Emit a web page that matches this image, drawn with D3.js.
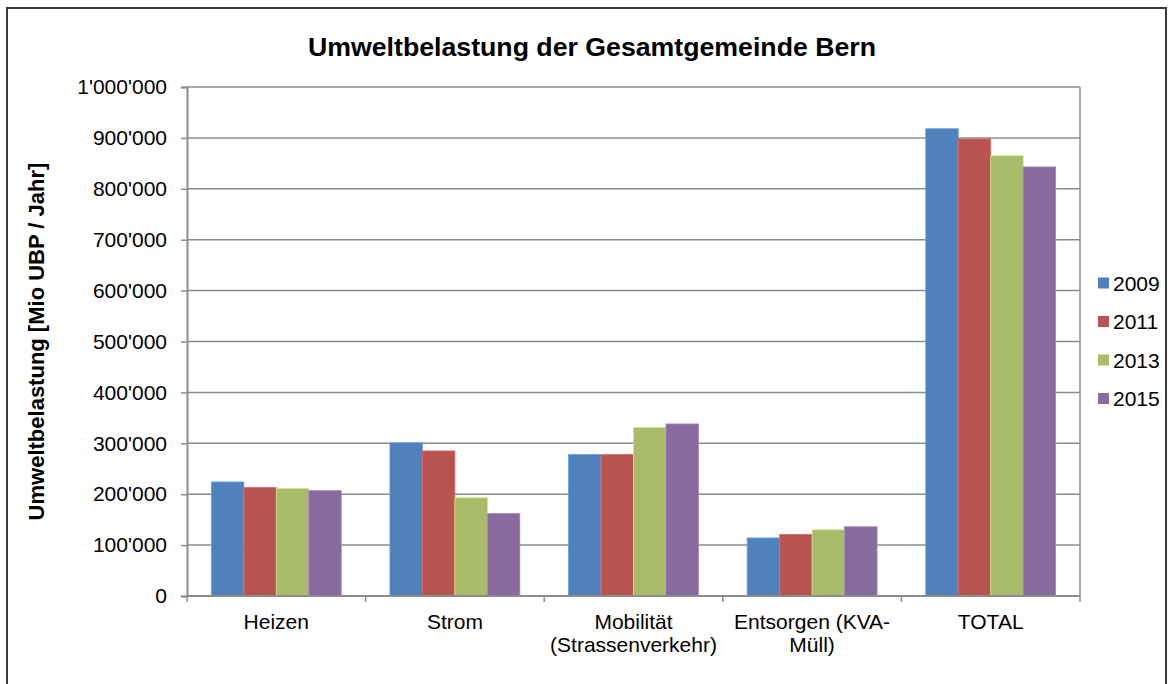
<!DOCTYPE html>
<meta charset="utf-8">
<style>
  body { margin: 0; background: #fff; }
  text { font-family: "Liberation Sans", Arial, sans-serif; fill: #000; }
</style>
<svg width="1173" height="684"></svg>
<script src="https://d3js.org/d3.v7.min.js"></script>
<script>

    var categories = [["Heizen"], ["Strom"], ["Mobilität", "(Strassenverkehr)"], ["Entsorgen (KVA-", "Müll)"], ["TOTAL"]];
    var years = ["2009", "2011", "2013", "2015"];
    var v2009 = [224000, 301000, 278000, 114000, 918000];
    var v2011 = [213000, 285000, 278000, 121000, 898000];
    var v2013 = [211000, 193000, 331000, 130000, 865000];
    var v2015 = [207000, 162000, 338000, 136000, 843000];
    var yTicks = [0, 100000, 200000, 300000, 400000, 500000, 600000, 700000, 800000, 900000, 1000000];
    var colors = ["#4f81bd", "#b9534f", "#a9bb68", "#876ba0"];

    var series = [v2009, v2011, v2013, v2015];

    var svg = d3.select("svg"),
        margin = {left: 187, right: 93, top: 87, bottom: 88},
        width = 1173 - margin.left - margin.right,
        height = 684 - margin.top - margin.bottom;

    // outer chart border
    svg.append("rect")
        .attr("x", 7).attr("y", 8)
        .attr("width", 1159).attr("height", 700)
        .attr("fill", "none").attr("stroke", "#3a3a3a").attr("stroke-width", 2);

    var g = svg.append("g").attr("transform", "translate(" + margin.left + "," + margin.top + ")");

    var x0 = d3.scaleBand()
        .domain(d3.range(categories.length))
        .range([0, width])
        .paddingInner(0);
    // gap width 150% in Excel terms
    var x1 = d3.scaleBand()
        .domain(d3.range(years.length))
        .range([0, x0.bandwidth()])
        .paddingOuter(0.75)
        .paddingInner(0);
    var y = d3.scaleLinear().domain([0, 1000000]).range([height, 0]);

    var fmt = function(d) {
        return d3.format(",")(d).replace(/,/g, "'");
    };

    // gridlines
    g.append("g").selectAll("line")
        .data(yTicks.slice(1))
        .enter().append("line")
        .attr("x1", 0).attr("x2", width)
        .attr("y1", function(d) { return y(d); })
        .attr("y2", function(d) { return y(d); })
        .attr("stroke", "#8c8c8c").attr("stroke-width", 1.5);

    // right frame line of plot area
    g.append("line")
        .attr("x1", width).attr("x2", width)
        .attr("y1", 0).attr("y2", height)
        .attr("stroke", "#8c8c8c").attr("stroke-width", 1.5);

    // bars
    var groups = g.append("g").selectAll("g")
        .data(categories)
        .enter().append("g")
        .attr("transform", function(d, i) { return "translate(" + x0(i) + ",0)"; });

    groups.selectAll("rect")
        .data(function(d, i) { return series.map(function(s, k) { return {k: k, v: s[i]}; }); })
        .enter().append("rect")
        .attr("x", function(d) { return x1(d.k); })
        .attr("width", x1.bandwidth())
        .attr("y", function(d) { return y(d.v); })
        .attr("height", function(d) { return height - y(d.v); })
        .attr("fill", function(d) { return colors[d.k]; })
        .attr("stroke", function(d) { return d3.color(colors[d.k]).brighter(0.6); })
        .attr("stroke-width", 0.8);

    // y axis
    var yAxis = g.append("g")
        .call(d3.axisLeft(y).tickValues(yTicks).tickFormat(fmt).tickSize(6).tickPadding(14));
    yAxis.select(".domain").attr("stroke", "#8c8c8c").attr("stroke-width", 2);
    yAxis.selectAll(".tick line").attr("stroke", "#8c8c8c").attr("stroke-width", 1.5);
    yAxis.selectAll(".tick text").attr("font-size", 21).attr("font-family", "Liberation Sans, Arial, sans-serif").attr("fill", "#000");

    // x axis
    var xAxis = g.append("g").attr("transform", "translate(0," + height + ")");
    xAxis.append("line")
        .attr("x1", 0).attr("x2", width)
        .attr("stroke", "#8c8c8c").attr("stroke-width", 2);
    xAxis.selectAll(".xt")
        .data(d3.range(categories.length + 1))
        .enter().append("line")
        .attr("class", "xt")
        .attr("x1", function(d) { return d * x0.bandwidth(); })
        .attr("x2", function(d) { return d * x0.bandwidth(); })
        .attr("y1", 0).attr("y2", 6)
        .attr("stroke", "#8c8c8c").attr("stroke-width", 1.5);
    var xl = xAxis.selectAll(".xl")
        .data(categories)
        .enter().append("text")
        .attr("class", "xl")
        .attr("text-anchor", "middle")
        .attr("font-size", 21)
        .attr("transform", function(d, i) { return "translate(" + (x0(i) + x0.bandwidth() / 2) + ",0)"; });
    xl.selectAll("tspan")
        .data(function(d) { return d; })
        .enter().append("tspan")
        .attr("x", 0)
        .attr("y", function(d, i) { return 33 + i * 22.5; })
        .text(function(d) { return d; });

    // title
    svg.append("text")
        .attr("x", 592).attr("y", 56)
        .attr("text-anchor", "middle")
        .attr("font-size", 26.7).attr("font-weight", "bold")
        .text("Umweltbelastung der Gesamtgemeinde Bern");

    // y axis title
    svg.append("text")
        .attr("transform", "translate(44," + (margin.top + height / 2) + ") rotate(-90)")
        .attr("text-anchor", "middle")
        .attr("font-size", 22).attr("font-weight", "bold")
        .text("Umweltbelastung [Mio UBP / Jahr]");

    // legend
    var legend = svg.append("g").selectAll("g")
        .data(years)
        .enter().append("g")
        .attr("transform", function(d, i) { return "translate(1098," + (283 + i * 38.5) + ")"; });
    legend.append("rect")
        .attr("x", 0).attr("y", -5.5)
        .attr("width", 11).attr("height", 11)
        .attr("fill", function(d, i) { return colors[i]; });
    legend.append("text")
        .attr("x", 15).attr("y", 7.5)
        .attr("font-size", 21)
        .text(function(d) { return d; });
</script>
